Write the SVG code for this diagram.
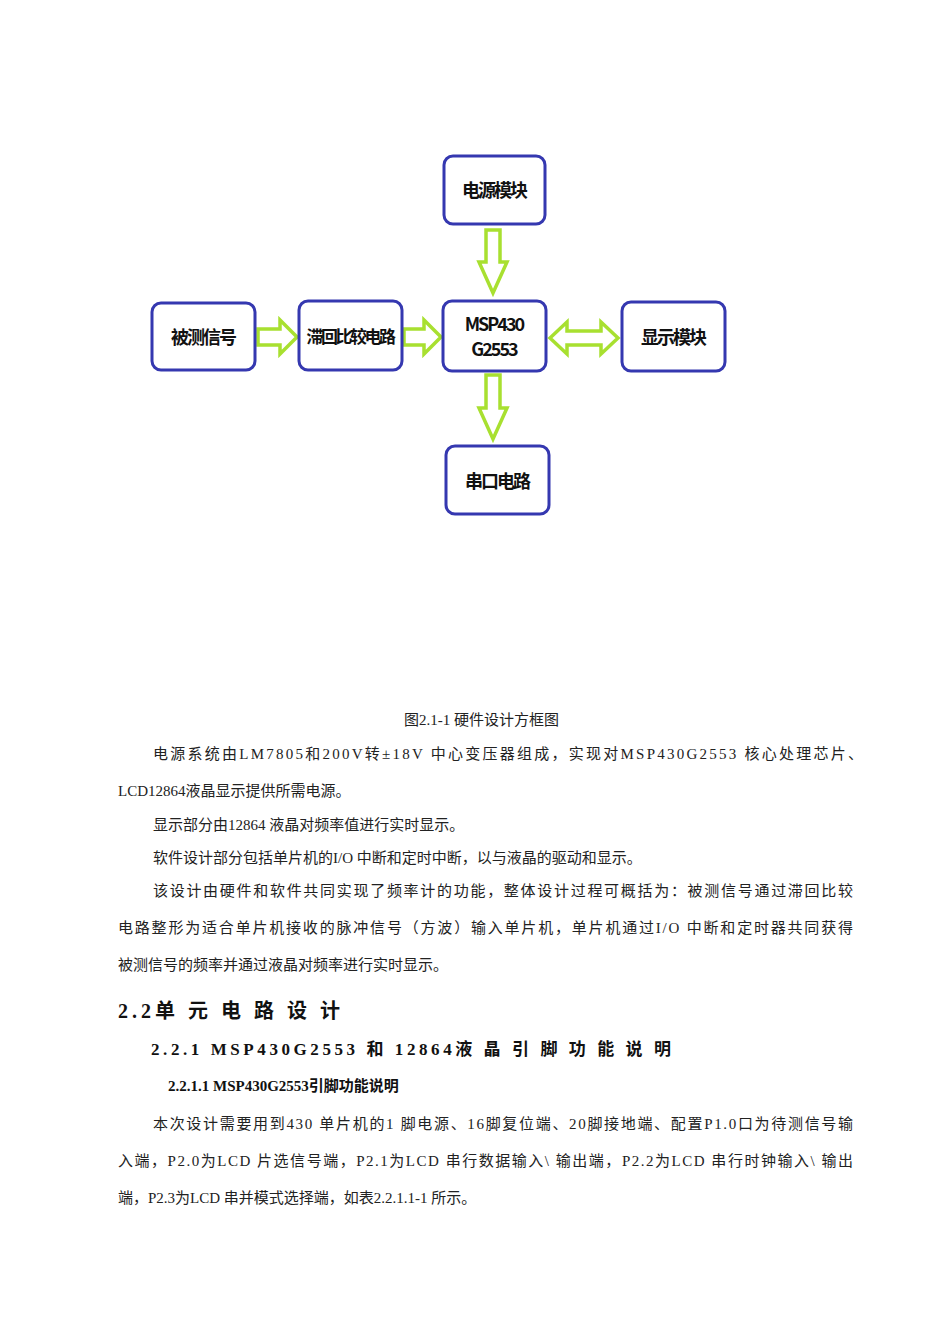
<svg xmlns="http://www.w3.org/2000/svg" width="950" height="1344" viewBox="0 0 950 1344">
<style>
.box{fill:#fff;stroke:#3538b0;stroke-width:3}
.bl{font-family:"Noto Sans CJK SC",sans-serif;font-weight:bold;font-size:18px;fill:#111;text-anchor:middle;letter-spacing:-2px}
.ar{fill:#fff;stroke:#a8e030;stroke-width:3.5;stroke-linejoin:miter}
.t{font-family:"Liberation Serif","Noto Sans CJK SC",serif;font-size:15px;fill:#222}
.h{font-family:"Liberation Serif","Noto Sans CJK SC",serif;font-weight:bold;fill:#111}
</style>
<rect width="950" height="1344" fill="#fff"/>
<g id="connectors">
<polygon class="ar" points="486,230 500,230 500,262 507,262 493,293 479,262 486,262"/>
<polygon class="ar" points="486,375 500,375 500,408 507,408 493,439 479,408 486,408"/>
<polygon class="ar" points="258,329 280,329 280,320 297,337 280,354 280,345 258,345"/>
<polygon class="ar" points="404,329 424,329 424,320 441,337 424,354 424,345 404,345"/>
<polygon class="ar" points="550,338 567,322 567,331 601,331 601,322 618,338 601,354 601,345 567,345 567,354"/>
</g>
<g id="n1"><rect class="box" x="444" y="156" width="101" height="68" rx="9"/><text class="bl" x="494" y="197">电源模块</text></g>
<g id="n2"><rect class="box" x="443" y="301" width="103" height="70" rx="9"/><text class="bl" x="494" y="331">MSP430</text><text class="bl" x="494" y="356">G2553</text></g>
<g id="n3"><rect class="box" x="152" y="303" width="103" height="67" rx="9"/><text class="bl" x="203" y="344">被测信号</text></g>
<g id="n4"><rect class="box" x="299" y="301" width="103" height="69" rx="9"/><text class="bl" x="350" y="343" style="font-size:17px;letter-spacing:-2.5px">滞回比较电路</text></g>
<g id="n5"><rect class="box" x="622" y="302" width="103" height="69" rx="9"/><text class="bl" x="673" y="344">显示模块</text></g>
<g id="n6"><rect class="box" x="446" y="446" width="103" height="68" rx="9"/><text class="bl" x="497" y="488">串口电路</text></g>
<text class="t" x="404" y="725">图2.1-1 硬件设计方框图</text>
<text class="t" x="153" y="759" textLength="710" lengthAdjust="spacing">电源系统由LM7805和200V转±18V 中心变压器组成，实现对MSP430G2553 核心处理芯片、</text>
<text class="t" x="118" y="796">LCD12864液晶显示提供所需电源。</text>
<text class="t" x="153" y="830">显示部分由12864 液晶对频率值进行实时显示。</text>
<text class="t" x="153" y="863">软件设计部分包括单片机的I/O 中断和定时中断，以与液晶的驱动和显示。</text>
<text class="t" x="153" y="896" textLength="700" lengthAdjust="spacing">该设计由硬件和软件共同实现了频率计的功能，整体设计过程可概括为：被测信号通过滞回比较</text>
<text class="t" x="118" y="933" textLength="735" lengthAdjust="spacing">电路整形为适合单片机接收的脉冲信号（方波）输入单片机，单片机通过I/O 中断和定时器共同获得</text>
<text class="t" x="118" y="970">被测信号的频率并通过液晶对频率进行实时显示。</text>
<text class="h" x="118" y="1018" font-size="20" textLength="222" lengthAdjust="spacing">2.2单 元 电 路 设 计</text>
<text class="h" x="151" y="1055" font-size="17" textLength="520" lengthAdjust="spacing">2.2.1  MSP430G2553 和  12864液 晶 引 脚 功 能 说 明</text>
<text class="h" x="168" y="1091" font-size="15">2.2.1.1  MSP430G2553引脚功能说明</text>
<text class="t" x="153" y="1129" textLength="700" lengthAdjust="spacing">本次设计需要用到430 单片机的1 脚电源、16脚复位端、20脚接地端、配置P1.0口为待测信号输</text>
<text class="t" x="118" y="1166" textLength="735" lengthAdjust="spacing">入端，P2.0为LCD 片选信号端，P2.1为LCD 串行数据输入\ 输出端，P2.2为LCD 串行时钟输入\ 输出</text>
<text class="t" x="118" y="1203">端，P2.3为LCD 串并模式选择端，如表2.2.1.1-1 所示。</text>
</svg>
